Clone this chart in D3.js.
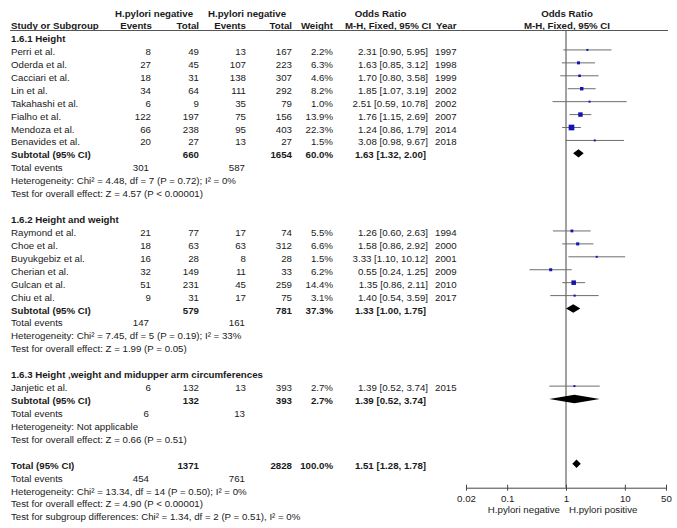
<!DOCTYPE html>
<html><head><meta charset="utf-8">
<script src="https://cdn.jsdelivr.net/npm/d3@7"></script>
<style>
html,body{margin:0;padding:0;background:#fff;}
svg text{font-family:"Liberation Sans",Arial,sans-serif;font-size:9.7px;fill:#1a1a1a;}
</style></head>
<body>
<svg id="chart" width="677" height="528"></svg>
<script>
const groupNames = ["1.6.1 Height","1.6.2 Height and weight","1.6.3 Height ,weight and midupper arm circumferences"];
const studyNames = ["Perri  et al.","Oderda et al.","Cacciari  et al.","Lin et al.","Takahashi  et al.","Fialho et al.","Mendoza  et al.","Benavides  et al.",
  "Raymond  et al.","Choe  et al.","Buyukgebiz  et al.","Cherian  et al.","Gulcan  et al.","Chiu et al.","Janjetic et al."];
const studyGroup = [0,0,0,0,0,0,0,0,1,1,1,1,1,1,2];
const evNeg  = [8,27,18,34,6,122,66,20,21,18,16,32,51,9,6];
const totNeg = [49,45,31,64,9,197,238,27,77,63,28,149,231,31,132];
const evPos  = [13,107,138,111,35,75,95,13,17,63,8,11,45,17,13];
const totPos = [167,223,307,292,79,156,403,27,74,312,28,33,259,75,393];
const weights = [2.2,6.3,4.6,8.2,1.0,13.9,22.3,1.5,5.5,6.6,1.5,6.2,14.4,3.1,2.7];
const orVals = [2.31,1.63,1.70,1.85,2.51,1.76,1.24,3.08,1.26,1.58,3.33,0.55,1.35,1.40,1.39];
const ciLow  = [0.90,0.85,0.80,1.07,0.59,1.15,0.86,0.98,0.60,0.86,1.10,0.24,0.86,0.54,0.52];
const ciHigh = [5.95,3.12,3.58,3.19,10.78,2.69,1.79,9.67,2.63,2.92,10.12,1.25,2.11,3.59,3.74];
const years  = [1997,1998,1999,2002,2002,2007,2014,2018,1994,2000,2001,2009,2010,2017,2015];

const subTotNeg = [660,579,132];
const subTotPos = [1654,781,393];
const subWeight = [60.0,37.3,2.7];
const subOR = [1.63,1.33,1.39];
const subLo = [1.32,1.00,0.52];
const subHi = [2.00,1.75,3.74];
const subEvNeg = [301,147,6];
const subEvPos = [587,161,13];
const subHet = ["Heterogeneity: Chi\u00b2 = 4.48, df = 7 (P = 0.72); I\u00b2 = 0%",
                "Heterogeneity: Chi\u00b2 = 7.45, df = 5 (P = 0.19); I\u00b2 = 33%",
                "Heterogeneity: Not applicable"];
const subTest = ["Test for overall effect: Z = 4.57 (P < 0.00001)",
                 "Test for overall effect: Z = 1.99 (P = 0.05)",
                 "Test for overall effect: Z = 0.66 (P = 0.51)"];

const totalTotNeg = 1371, totalTotPos = 2828, totalWeight = 100.0;
const totalOR = 1.51, totalLo = 1.28, totalHi = 1.78;
const totalEvNeg = 454, totalEvPos = 761;
const totalNotes = ["Heterogeneity: Chi\u00b2 = 13.34, df = 14 (P = 0.50); I\u00b2 = 0%",
  "Test for overall effect: Z = 4.90 (P < 0.00001)",
  "Test for subgroup differences: Chi\u00b2 = 1.34, df = 2 (P = 0.51), I\u00b2 = 0%"];

const tickVals = [0.02,0.1,1,10,50];
const axisLabels = ["H.pylori negative","H.pylori positive"];

// ---------- layout ----------
const svg = d3.select("#chart");
const x = d3.scaleLog().domain([0.02,50]).range([466,666]);
const ROW0 = 38.5, STEP = 12.93;
const rowY = i => ROW0 + i*STEP;
const BL = 3.5;       // baseline offset
const MK = -1.5;      // marker offset
const col = {name:11, e1:151, t1:199, e2:246, t2:292, w:333, or:428, yr:435};
const f2 = d3.format(".2f");
const orText = (o,l,h)=> `${f2(o)} [${f2(l)}, ${f2(h)}]`;
const wText = w => d3.format(".1f")(w)+"%";

// build row list
const rows = [];
let r = 0;
for (let g=0; g<groupNames.length; g++){
  rows.push({type:"head", i:r++, g});
  studyNames.forEach((n,k)=>{ if(studyGroup[k]===g) rows.push({type:"study", i:r++, k}); });
  rows.push({type:"sub", i:r++, g});
  rows.push({type:"ev", i:r++, a:subEvNeg[g], b:subEvPos[g]});
  rows.push({type:"note", i:r++, t:subHet[g]});
  rows.push({type:"note", i:r++, t:subTest[g]});
  r++;
}
rows.push({type:"total", i:r++});
rows.push({type:"ev", i:r++, a:totalEvNeg, b:totalEvPos});
totalNotes.forEach(t=>rows.push({type:"note", i:r++, t}));

function txt(xx, yy, s, anchor, bold){
  return svg.append("text").attr("x",xx).attr("y",yy).attr("text-anchor",anchor||"start")
    .attr("font-weight", bold?"bold":null).text(s);
}

// headers
const h1 = 13+BL, h2 = 25+BL;
txt(154, h1, "H.pylori negative", "middle", true);
txt(247, h1, "H.pylori negative", "middle", true);
txt(380.5, h1, "Odds Ratio", "middle", true);
txt(567, h1, "Odds Ratio", "middle", true);
txt(col.name, h2, "Study or Subgroup", "start", true);
txt(col.e1+1, h2, "Events", "end", true);
txt(col.t1, h2, "Total", "end", true);
txt(col.e2, h2, "Events", "end", true);
txt(col.t2, h2, "Total", "end", true);
txt(col.w, h2, "Weight", "end", true);
txt(345, h2, "M-H, Fixed, 95% CI", "start", true);
txt(436, h2, "Year", "start", true);
txt(567, h2, "M-H, Fixed, 95% CI", "middle", true);
svg.append("line").attr("x1",10).attr("x2",668).attr("y1",30.5).attr("y2",30.5)
  .attr("stroke","#555").attr("stroke-width",1);

// axis & null line
const axisY = 487.7;
svg.append("line").attr("x1",x(1)).attr("x2",x(1)).attr("y1",30.5).attr("y2",axisY)
  .attr("stroke","#444").attr("stroke-width",1);
const ax = svg.append("g").attr("transform",`translate(0,${axisY})`)
  .call(d3.axisBottom(x).tickValues(tickVals).tickFormat(d3.format("~g")).tickSizeOuter(0).tickSizeInner(3).tickPadding(4));
ax.select(".domain").attr("stroke","#444");
ax.selectAll(".tick line").attr("y1",-3).attr("y2",3).attr("stroke","#444");
ax.selectAll(".tick text").style("font-family","'Liberation Sans',Arial,sans-serif").style("font-size","9.7px").attr("fill","#1a1a1a");
txt(x(1)-6, 509.3+BL, axisLabels[0], "end", false);
txt(x(1)+3, 509.3+BL, axisLabels[1], "start", false);

// diamond
function diamond(o,l,h,yc){
  const hh = 4.2;
  svg.append("path").attr("d",`M${x(l)},${yc}L${x(o)},${yc-hh}L${x(h)},${yc}L${x(o)},${yc+hh}Z`).attr("fill","#000");
}

rows.forEach(row=>{
  const y = rowY(row.i);
  const by = y+BL;
  if(row.type==="head"){ txt(col.name, by, groupNames[row.g], "start", true); }
  else if(row.type==="study"){
    const k=row.k;
    txt(col.name, by, studyNames[k]);
    txt(col.e1, by, evNeg[k], "end");
    txt(col.t1, by, totNeg[k], "end");
    txt(col.e2, by, evPos[k], "end");
    txt(col.t2, by, totPos[k], "end");
    txt(col.w, by, wText(weights[k]), "end");
    txt(col.or, by, orText(orVals[k],ciLow[k],ciHigh[k]), "end");
    txt(col.yr, by, years[k], "start");
    const my = y+MK;
    svg.append("line").attr("x1",x(ciLow[k])).attr("x2",x(ciHigh[k])).attr("y1",my).attr("y2",my)
      .attr("stroke","#6e6e6e").attr("stroke-width",1);
    const s = Math.max(2, 1.2*Math.sqrt(weights[k]));
    svg.append("rect").attr("x",x(orVals[k])-s/2).attr("y",my-s/2).attr("width",s).attr("height",s)
      .attr("fill","#1414b4");
  }
  else if(row.type==="sub"){
    const g=row.g;
    txt(col.name, by, "Subtotal (95% CI)", "start", true);
    txt(col.t1, by, subTotNeg[g], "end", true);
    txt(col.t2, by, subTotPos[g], "end", true);
    txt(col.w, by, wText(subWeight[g]), "end", true);
    txt(col.or-2, by, orText(subOR[g],subLo[g],subHi[g]), "end", true);
    diamond(subOR[g],subLo[g],subHi[g], y+MK);
  }
  else if(row.type==="total"){
    txt(col.name, by, "Total (95% CI)", "start", true);
    txt(col.t1, by, totalTotNeg, "end", true);
    txt(col.t2, by, totalTotPos, "end", true);
    txt(col.w, by, wText(totalWeight), "end", true);
    txt(col.or-2, by, orText(totalOR,totalLo,totalHi), "end", true);
    diamond(totalOR,totalLo,totalHi, y+MK);
  }
  else if(row.type==="ev"){
    txt(col.name, by, "Total events");
    txt(col.e1-2, by, row.a, "end");
    txt(col.e2-1, by, row.b, "end");
  }
  else if(row.type==="note"){ txt(col.name, by, row.t); }
});
</script>
</body></html>
